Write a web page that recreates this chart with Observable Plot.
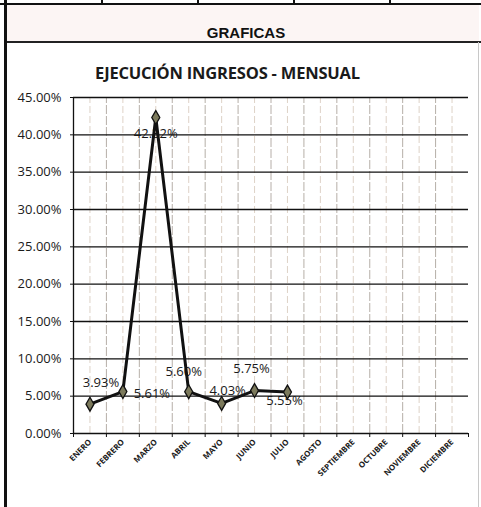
<!DOCTYPE html>
<html>
<head>
<meta charset="utf-8">
<script src="https://cdn.jsdelivr.net/npm/d3@7"></script>
<script src="https://cdn.jsdelivr.net/npm/@observablehq/plot@0.6"></script>
<style>
  html, body { margin: 0; padding: 0; background: #fff; }
  #page { position: relative; width: 481px; height: 507px; overflow: hidden; background: #fff; }
  .abs { position: absolute; }
  #header { left: 6px; right: 2px; top: 5px; height: 37px; background: #fcf5f4; }
  #grafTitle { left: 0; width: 492px; top: 24px; text-align: center; font: bold 15px "Liberation Sans", Arial, sans-serif; color: #111; }
  #chartTitle { left: 0; width: 455px; top: 61px; text-align: center; font: bold 16.5px "Open Sans", sans-serif; color: #1a1a1a; letter-spacing: -0.2px; }
  #plot { left: 0; top: 85px; }
</style>
</head>
<body>
<div id="page">
  <div class="abs" id="header"></div>
  <div class="abs" style="left:0;top:3px;width:481px;height:2px;background:#111"></div>
  <div class="abs" style="left:101px;top:0;width:1.5px;height:4px;background:#111"></div>
  <div class="abs" style="left:197px;top:0;width:1.5px;height:4px;background:#111"></div>
  <div class="abs" style="left:293px;top:0;width:1.5px;height:4px;background:#111"></div>
  <div class="abs" style="left:389px;top:0;width:1.5px;height:4px;background:#111"></div>
  <div class="abs" style="left:4px;top:41px;width:477px;height:2px;background:#222"></div>
  <div class="abs" style="left:4px;top:0;width:3px;height:507px;background:#111"></div>
  <div class="abs" style="left:478px;top:42px;width:1px;height:465px;background:#c8c8c8"></div>
  <div class="abs" id="grafTitle">GRAFICAS</div>
  <div class="abs" id="chartTitle">EJECUCIÓN INGRESOS - MENSUAL</div>
  <div class="abs" id="plot"></div>
</div>
<script>
// Categories (months)
const months = ["ENERO","FEBRERO","MARZO","ABRIL","MAYO","JUNIO","JULIO","AGOSTO","SEPTIEMBRE","OCTUBRE","NOVIEMBRE","DICIEMBRE"];
// Series values (fraction), only first seven months reported
const reportedMonths = ["ENERO","FEBRERO","MARZO","ABRIL","MAYO","JUNIO","JULIO"];
const values = [0.0393, 0.0561, 0.4232, 0.0560, 0.0403, 0.0575, 0.0555];
// Y tick values
const yTicks = [0, 0.05, 0.10, 0.15, 0.20, 0.25, 0.30, 0.35, 0.40, 0.45];

// Label placement offsets (pixels), per month
const labelOffsets = {
  ENERO: [11, -21], FEBRERO: [29, 2], MARZO: [0, 16], ABRIL: [-5, -20],
  MAYO: [6, -13], JUNIO: [-3, -22], JULIO: [-3, 9]
};

const data = reportedMonths.map((m, i) => ({month: m, idx: months.indexOf(m) + 0.5, value: values[i]}));
const centers = months.map((m, i) => i + 0.5);
const bounds = d3.range(0, months.length + 1);
const fmtPct = d3.format(".2%");

const labelMarks = data.map(d => Plot.text([d], {
  x: "idx", y: "value", text: r => fmtPct(r.value),
  dx: labelOffsets[d.month][0], dy: labelOffsets[d.month][1],
  fontSize: 13, fill: "#1a1a1a", fontFamily: "Open Sans"
}));

const chart = Plot.plot({
  width: 481,
  height: 422,
  marginTop: 12,
  marginBottom: 74,
  marginLeft: 73,
  marginRight: 13,
  style: {fontFamily: "Open Sans", background: "transparent", color: "#1a1a1a"},
  x: {type: "linear", domain: [0, months.length]},
  y: {domain: [0, 0.45]},
  marks: [
    // vertical faint grid lines at category centers and boundaries
    Plot.ruleX(centers, {y1: 0, y2: 0.45, stroke: "#d6c7b9", strokeWidth: 0.8, strokeDasharray: "7,3"}),
    Plot.ruleX(bounds.slice(1, -1), {y1: 0, y2: 0.45, stroke: "#a39a92", strokeWidth: 0.8, strokeDasharray: "9,2"}),
    // horizontal grid lines
    Plot.ruleY(yTicks, {stroke: "#111", strokeWidth: 1.3}),
    Plot.ruleX([0], {y1: 0, y2: 0.45, stroke: "#111", strokeWidth: 1.3}),
    Plot.axisY({ticks: yTicks, tickFormat: d3.format(".2%"), tickSize: 3, tickPadding: 9, fontSize: 13, label: null, stroke: "#111"}),
    Plot.axisX({ticks: bounds, tickFormat: () => "", tickSize: 4, label: null, stroke: "#111"}),
    // rotated category labels
    Plot.text(centers, {
      x: d => d, frameAnchor: "bottom", dy: 9, dx: 2,
      text: d => months[Math.floor(d)], rotate: -45, textAnchor: "end",
      fontSize: 8, fontWeight: "bold", fill: "#1a1a1a"
    }),
    ...labelMarks,
    Plot.line(data, {x: "idx", y: "value", stroke: "#111", strokeWidth: 3}),
    Plot.dot(data, {x: "idx", y: "value", symbol: "diamond", r: 4.2, fill: "#7c7a5c", stroke: "#111", strokeWidth: 1.3})
  ]
});
document.getElementById("plot").appendChild(chart);
</script>
</body>
</html>
